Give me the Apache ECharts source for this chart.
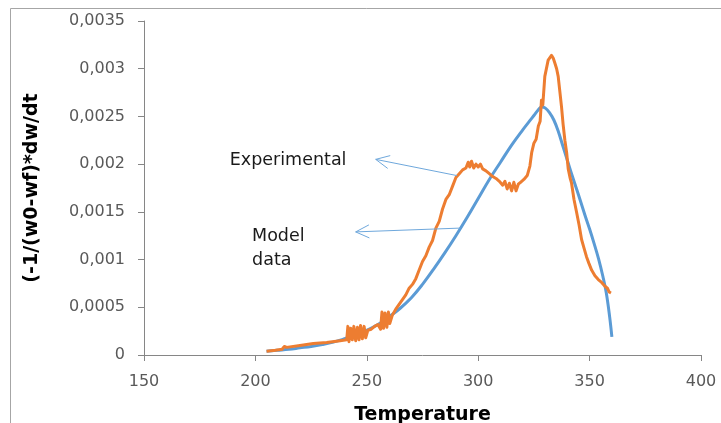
<!DOCTYPE html>
<html><head><meta charset="utf-8">
<script src="https://cdn.jsdelivr.net/npm/echarts@6/dist/echarts.min.js"></script>
<style>html,body{margin:0;padding:0;background:#fff}#c{width:721px;height:423px}</style>
</head><body><div id="c"></div>
<script>
// ---- data ----
const xTicks = [150, 200, 250, 300, 350, 400];
const yTicks = [0, 0.0005, 0.001, 0.0015, 0.002, 0.0025, 0.003, 0.0035];
const xTitle = 'Temperature';
const yTitle = '(-1/(w0-wf)*dw/dt';

// Model data (blue)
const modelT = [205,210,215,220,225,230,235,240,245,250,255,260,265,270,275,280,285,290,295,300,305,310,315,320,323,325,327,328.5,330,332,334,336,338,340,343,345,348,350,352,354,356,357.5,359,360];
const modelV = [0.00004,0.00005,0.00006,0.000075,0.00009,0.00011,0.000135,0.00017,0.00021,0.00026,0.00032,0.0004,0.00049,0.0006,0.00074,0.0009,0.00107,0.00125,0.00144,0.00164,0.00184,0.00202,0.0022,0.00236,0.00245,0.00251,0.00257,0.0026,0.00259,0.00254,0.00246,0.00234,0.00219,0.00204,0.00182,0.00168,0.00146,0.00132,0.00117,0.00101,0.00082,0.00065,0.0004,0.00019];

// Experimental (orange)
const expT = [205,209,212,213,214,220,226,232,238,241,241.5,242,242.8,243.5,244.2,245,245.8,246.5,247.2,248,248.8,249.5,250.5,252,253.5,255,256.2,256.8,257.5,258.2,259,259.7,260.3,261.5,263,264.5,266,267.5,269,270.5,272,273.5,275,276.5,278,279.5,281,282.5,284,285.5,287,288.5,290,291.5,293,294.5,295.5,296.2,297,298,299,300,301,302,303.5,305,306.5,308,309.5,311,312,313,314,315,316,317,318,319,320.5,322,323.2,324,325,326,327,327.8,328.4,329,329.9,330.6,331.4,332.2,332.9,333.7,334.4,335.2,335.9,336.7,337.4,338.1,338.9,339.7,340.4,341.2,341.9,343,344.2,345.3,346.4,347.5,348.6,349.7,350.9,352.4,353.9,355.4,356.9,358,358.8,359.6];
const expV = [0.00004,0.00005,0.00006,0.00009,0.00008,0.0001,0.00012,0.00013,0.00015,0.00016,0.0003,0.00014,0.00028,0.00016,0.0003,0.00015,0.00029,0.00016,0.00031,0.00017,0.0003,0.00018,0.00026,0.00027,0.0003,0.00032,0.00027,0.00045,0.00028,0.00044,0.00029,0.00045,0.00033,0.00042,0.00048,0.00053,0.00058,0.00063,0.0007,0.00074,0.0008,0.00089,0.00098,0.00104,0.00113,0.0012,0.00133,0.0014,0.00153,0.00163,0.00168,0.00177,0.00186,0.0019,0.00194,0.00196,0.00202,0.00197,0.00203,0.00196,0.002,0.00197,0.002,0.00195,0.00193,0.0019,0.00187,0.00185,0.00182,0.00178,0.00182,0.00174,0.0018,0.00172,0.00181,0.00172,0.00179,0.00181,0.00184,0.00188,0.00198,0.00212,0.00222,0.00226,0.0024,0.00245,0.00267,0.00262,0.00292,0.0029,0.00309,0.00311,0.00314,0.00311,0.00306,0.003,0.00292,0.00275,0.0026,0.00242,0.00225,0.00212,0.00195,0.00186,0.0018,0.00163,0.00149,0.00136,0.00121,0.00112,0.00103,0.00096,0.00089,0.00083,0.00079,0.00076,0.00072,0.0007,0.00066,0.00065];

// annotations: text positions and arrows in data coordinates
const annExpText = 'Experimental';
const annModelText = ['Model', 'data'];
const arrowExp = {from: [290.5, 0.00188], to: [254, 0.00205]};
const arrowModel = {from: [292, 0.00133], to: [245, 0.00129]};
const annExpPos = [188.5, 0.00204];
const annModelPos = [198.5, 0.00137];

// ---- chart ----
const fmt = v => String(+Number(v).toPrecision(6)).replace('.', ',');
const chart = echarts.init(document.getElementById('c'), null, {renderer: 'canvas'});
const axisCol = '#868686';
const labCol = '#595959';
const font = '"DejaVu Sans", Verdana, sans-serif';
chart.setOption({
  animation: false,
  backgroundColor: '#fff',
  grid: {left: 144, right: 20, top: 21, bottom: 68, containLabel: false, outerBoundsMode: 'none'},
  xAxis: {
    type: 'value', min: xTicks[0], max: xTicks[xTicks.length - 1], interval: 50,
    name: xTitle, nameLocation: 'middle', nameGap: 51,
    nameTextStyle: {fontFamily: font, fontWeight: 'bold', fontSize: 19, color: '#000'},
    axisLine: {show: true, lineStyle: {color: axisCol, width: 1}},
    axisTick: {show: true, inside: false, length: 6, lineStyle: {color: axisCol}},
    axisLabel: {color: labCol, fontFamily: font, fontSize: 16, margin: 19, formatter: fmt},
    splitLine: {show: false}
  },
  yAxis: {
    type: 'value', min: yTicks[0], max: yTicks[yTicks.length - 1], interval: 0.0005,
    name: yTitle, nameLocation: 'middle', nameGap: 102, nameRotate: 90,
    nameTextStyle: {fontFamily: font, fontWeight: 'bold', fontSize: 19, color: '#000'},
    axisLine: {show: true, lineStyle: {color: axisCol, width: 1}},
    axisTick: {show: true, inside: false, length: 6, lineStyle: {color: axisCol}},
    axisLabel: {color: labCol, fontFamily: font, fontSize: 16, margin: 19, formatter: fmt},
    splitLine: {show: false}
  },
  series: [
    {type: 'line', name: 'Model data', data: modelT.map((t, i) => [t, modelV[i]]), smooth: 0.4,
     showSymbol: false, lineStyle: {color: '#5B9BD5', width: 3}, z: 2},
    {type: 'line', name: 'Experimental', data: expT.map((t, i) => [t, expV[i]]), smooth: false,
     showSymbol: false, lineStyle: {color: '#ED7D31', width: 3, join: 'round'}, z: 3}
  ]
});

function arrow(a, col) {
  const p1 = chart.convertToPixel({gridIndex: 0}, a.from);
  const p2 = chart.convertToPixel({gridIndex: 0}, a.to);
  const ang = Math.atan2(p1[1] - p2[1], p1[0] - p2[0]);
  const L = 15, s = 0.45;
  const h1 = [p2[0] + L * Math.cos(ang + s), p2[1] + L * Math.sin(ang + s)];
  const h2 = [p2[0] + L * Math.cos(ang - s), p2[1] + L * Math.sin(ang - s)];
  return [
    {type: 'line', shape: {x1: p1[0], y1: p1[1], x2: p2[0], y2: p2[1]}, style: {stroke: col, lineWidth: 1}, z: 10},
    {type: 'polyline', shape: {points: [h1, p2, h2]}, style: {stroke: col, lineWidth: 1, fill: null}, z: 10}
  ];
}
const pe = chart.convertToPixel({gridIndex: 0}, annExpPos);
const pm = chart.convertToPixel({gridIndex: 0}, annModelPos);
chart.setOption({
  graphic: [
    {type: 'rect', shape: {x: 10.5, y: 8.5, width: 720, height: 420}, style: {stroke: '#a6a6a6', fill: null, lineWidth: 1}, z: 0, silent: true},
    ...arrow(arrowExp, '#6fa8dc'),
    ...arrow(arrowModel, '#6fa8dc'),
    {type: 'text', x: pe[0], y: pe[1], style: {text: annExpText, fill: '#1a1a1a', font: '17.5px ' + font, textVerticalAlign: 'middle'}, z: 10},
    {type: 'text', x: pm[0], y: pm[1], style: {text: annModelText.join('\n'), fill: '#1a1a1a', font: '17.5px ' + font, lineHeight: 24, textVerticalAlign: 'top'}, z: 10}
  ]
});
</script></body></html>
